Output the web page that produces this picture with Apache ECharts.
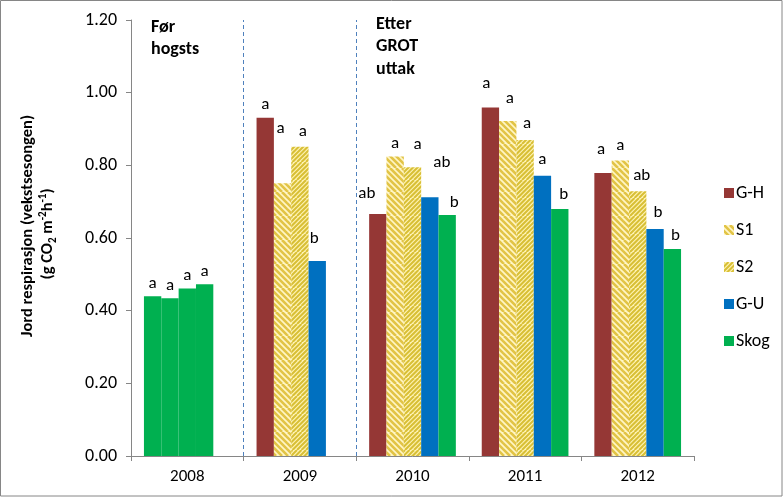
<!DOCTYPE html>
<html>
<head>
<meta charset="utf-8">
<script src="https://cdn.jsdelivr.net/npm/echarts@6/dist/echarts.min.js"></script>
<style>html,body{margin:0;padding:0;background:#fff}#c{width:784px;height:497px}</style>
</head>
<body>
<div id="c"></div>
<script>
// ---- data ----
const years = ['2008', '2009', '2010', '2011', '2012'];
const seriesNames = ['G-H', 'S1', 'S2', 'G-U', 'Skog'];
const gh   = [0.440, 0.931, 0.666, 0.959, 0.779];
const s1   = [0.434, 0.751, 0.824, 0.922, 0.813];
const s2   = [0.461, 0.851, 0.795, 0.870, 0.729];
const gu   = [0.473, 0.537, 0.712, 0.771, 0.625];
const skog = [null,  null,  0.663, 0.680, 0.570];
const ghLetters   = ['a', 'a', 'ab', 'a', 'a'];
const s1Letters   = ['a', 'a', 'a', 'a', 'a'];
const s2Letters   = ['a', 'a', 'a', 'a', 'ab'];
const guLetters   = ['a', 'b', 'ab', 'a', 'b'];
const skogLetters = ['', '', 'b', 'b', 'b'];
const yTicks = [0, 0.2, 0.4, 0.6, 0.8, 1.0, 1.2];
const periodBoundaries = [1, 2]; // dashed separators: after 2008, after 2009

// ---- styling ----
const FONT = 'Carlito, Lato, "Open Sans", sans-serif';
const GREEN = '#00B050';
function hatch(period, width, fg, bg, dir) {
  const s = period * 4;
  const c = document.createElement('canvas');
  c.width = s; c.height = s;
  const g = c.getContext('2d');
  g.fillStyle = bg; g.fillRect(0, 0, s, s);
  g.strokeStyle = fg; g.lineWidth = width;
  for (let k = -2 * s; k <= 2 * s; k += period) {
    g.beginPath();
    if (dir > 0) { g.moveTo(k, s); g.lineTo(k + s, 0); }
    else { g.moveTo(k, 0); g.lineTo(k + s, s); }
    g.stroke();
  }
  return { image: c, repeat: 'repeat' };
}
const colors = [
  '#953735',
  hatch(6, 2.6, '#E2C446', '#FFF6C6', -1),
  hatch(4.5, 2, '#D8BF35', '#FFF4B8', 1),
  '#0070C0',
  GREEN
];
// label nudges [dx, dy] per series per year (layout only)
const nudges = [
  [[0,0],[0,0],[-11,-8],[-4,-11],[-2,-11]],
  [[0,0],[-2,-42],[0,0],[2,-10],[0,-2]],
  [[0,0],[3,-3],[5,-10],[2,-4],[4,-3]],
  [[0,0],[-3,-10],[12,-22],[0,-4],[3,-4]],
  [[0,0],[0,0],[7,0],[4,-2],[3,-1]]
];
const allVals = [gh, s1, s2, gu, skog];
const allLetters = [ghLetters, s1Letters, s2Letters, guLetters, skogLetters];

const series = seriesNames.map((name, si) => ({
  name: name,
  type: 'bar',
  barGap: 0,
  barCategoryGap: '23%',
  itemStyle: { color: colors[si] },
  data: allVals[si].map((v, yi) => {
    const item = {
      value: v,
      label: {
        show: v != null,
        position: 'top',
        distance: 4,
        formatter: allLetters[si][yi],
        offset: nudges[si][yi],
        fontSize: 17,
        fontFamily: FONT,
        color: '#000'
      }
    };
    if (yi === 0) item.itemStyle = { color: GREEN };
    return item;
  })
}));

// dummy series carrying the dashed period separators on a hidden value x-axis
series.push({
  type: 'line',
  xAxisIndex: 1,
  data: [],
  silent: true,
  markLine: {
    symbol: 'none',
    silent: true,
    label: { show: false },
    lineStyle: { type: [4, 3], color: '#4F81BD', width: 1 },
    data: periodBoundaries.map(b => ({ xAxis: b }))
  }
});

const chart = echarts.init(document.getElementById('c'), null, { renderer: 'canvas' });
chart.setOption({
  animation: false,
  backgroundColor: '#fff',
  textStyle: { fontFamily: FONT },
  grid: { left: 131, right: 90, top: 20, bottom: 41, containLabel: false },
  legend: {
    orient: 'vertical',
    left: 719,
    top: 179,
    itemWidth: 10,
    itemHeight: 10,
    itemGap: 19,
    icon: 'rect',
    data: seriesNames,
    textStyle: { fontSize: 18, color: '#000', fontFamily: FONT, padding: [0, 0, 0, -3] }
  },
  xAxis: [{
    type: 'category',
    data: years,
    axisLine: { lineStyle: { color: '#868686' } },
    axisTick: { show: true, length: 5, lineStyle: { color: '#868686' } },
    axisLabel: { fontSize: 17, color: '#000', margin: 12, fontFamily: FONT },
    splitLine: { show: false }
  }, {
    type: 'value',
    min: 0,
    max: years.length,
    show: false,
    splitLine: { show: false }
  }],
  yAxis: {
    type: 'value',
    min: yTicks[0],
    max: yTicks[yTicks.length - 1],
    interval: 0.2,
    axisLine: { show: true, lineStyle: { color: '#868686' } },
    axisTick: { show: true, length: 5, lineStyle: { color: '#868686' } },
    axisLabel: { fontSize: 18, color: '#000', margin: 14, fontFamily: FONT, formatter: v => v.toFixed(2) },
    splitLine: { show: false }
  },
  series: series,
  graphic: [
    { type: 'rect', silent: true, shape: { x: 0.5, y: 0.5, width: 781.5, height: 495.5 },
      style: { fill: 'none', stroke: '#868686', lineWidth: 1 } },
    { type: 'text', left: 151, top: 16,
      style: { text: 'Før\nhogsts', fontSize: 18, fontWeight: 'bold', lineHeight: 22.5, fill: '#000', fontFamily: FONT } },
    { type: 'text', left: 376, top: 13,
      style: { text: 'Etter\nGROT\nuttak', fontSize: 18, fontWeight: 'bold', lineHeight: 22.5, fill: '#000', fontFamily: FONT } },
    { type: 'text', x: 28, y: 226, rotation: Math.PI / 2,
      style: { text: 'Jord respirasjon (vekstsesongen)', align: 'center', verticalAlign: 'middle',
               fontSize: 16.5, fontWeight: 'bold', fill: '#000', fontFamily: FONT } },
    { type: 'text', x: 48, y: 234, rotation: Math.PI / 2,
      style: { text: '(g CO{sub|2} m{sup|-2}h{sup|-1})', align: 'center', verticalAlign: 'middle',
               fontSize: 16.5, fontWeight: 'bold', fill: '#000', fontFamily: FONT, lineHeight: 21,
               rich: {
                 sub: { fontSize: 11, fontWeight: 'bold', verticalAlign: 'bottom', lineHeight: 21, fontFamily: FONT, fill: '#000' },
                 sup: { fontSize: 11, fontWeight: 'bold', verticalAlign: 'top', lineHeight: 21, fontFamily: FONT, fill: '#000' }
               } } }
  ]
});
</script>
</body>
</html>
